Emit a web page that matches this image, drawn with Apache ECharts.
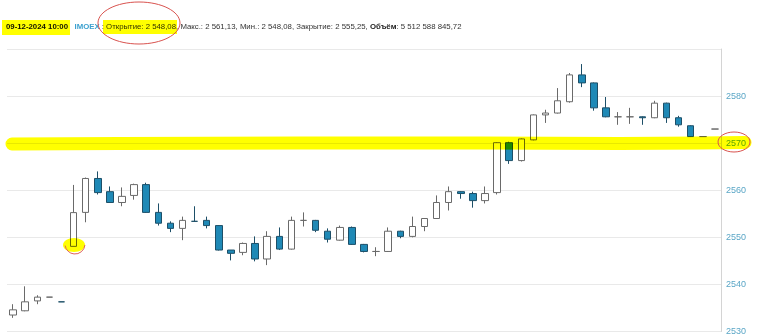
<!DOCTYPE html>
<html>
<head>
<meta charset="utf-8">
<script src="https://cdn.jsdelivr.net/npm/echarts@6/dist/echarts.min.js"></script>
<style>
html,body{margin:0;padding:0;background:#fff;}
#chart{width:758px;height:336px;}
</style>
</head>
<body>
<div id="chart"></div>
<script>
// ---- data (open, close, low, high per candle) ----
const opens  = [2533.5,2534.4,2536.5,2537.3,2536.3,2548.08,2555.3,2562.5,2559.7,2557.4,2558.9,2561.2,2555.3,2553.0,2551.9,2553.4,2553.6,2552.5,2547.3,2546.8,2548.7,2545.4,2550.2,2547.5,2553.6,2553.6,2551.3,2549.4,2552.1,2548.5,2547.0,2547.0,2551.3,2550.2,2552.3,2554.0,2557.4,2559.7,2559.3,2557.8,2559.5,2570.1,2566.3,2570.7,2576.0,2576.4,2578.8,2584.5,2582.8,2577.5,2575.6,2575.6,2575.6,2575.4,2578.5,2575.4,2573.7,2571.4,2573.0];
const closes = [2534.6,2536.3,2537.3,2537.3,2536.3,2555.25,2562.5,2559.5,2557.4,2558.7,2561.2,2555.3,2553.0,2551.9,2553.6,2553.4,2552.5,2547.3,2546.6,2548.7,2545.4,2550.2,2547.5,2553.6,2553.6,2551.5,2549.6,2552.1,2548.5,2547.0,2547.0,2551.3,2550.2,2552.3,2554.0,2557.4,2559.7,2559.3,2557.8,2559.3,2570.1,2566.3,2570.9,2576.0,2576.4,2579.0,2584.5,2582.8,2577.5,2575.6,2575.6,2575.6,2575.4,2578.5,2575.4,2573.9,2571.4,2571.4,2573.0];
const lows   = [2532.9,2534.3,2535.8,2537.3,2536.3,2548.08,2553.2,2559.1,2557.3,2556.6,2558.0,2555.2,2552.5,2551.1,2549.4,2553.3,2551.9,2547.2,2545.1,2546.2,2544.9,2544.1,2547.3,2547.4,2552.3,2551.1,2548.9,2549.3,2548.4,2546.8,2546.0,2546.9,2549.8,2550.0,2551.3,2553.9,2555.7,2558.2,2556.3,2557.2,2559.1,2565.6,2566.1,2570.6,2574.3,2576.3,2578.6,2581.9,2576.9,2575.5,2573.9,2574.1,2573.9,2575.3,2574.3,2573.5,2571.3,2571.4,2573.0];
const highs  = [2535.8,2539.6,2537.7,2537.3,2536.3,2561.13,2562.7,2564.0,2560.8,2560.6,2561.4,2561.6,2557.2,2553.4,2554.4,2556.6,2554.4,2552.6,2547.3,2548.9,2550.2,2551.3,2552.1,2554.4,2555.3,2553.7,2551.9,2552.5,2552.3,2548.6,2547.9,2552.1,2551.4,2554.4,2554.1,2558.9,2560.8,2559.8,2559.7,2560.8,2570.2,2570.3,2571.0,2576.1,2577.1,2581.7,2584.9,2586.8,2582.9,2579.8,2576.6,2577.5,2575.7,2579.0,2578.6,2575.8,2573.8,2571.4,2573.0];
const categories = opens.map((_, i) => String(i + 1));
const yMin = 2530, yMax = 2590, yStep = 10;

// header info (hovered candle)
const headerIndex = 5;
const headerDate = '09-12-2024 10:00';
const headerTicker = 'IMOEX';
const headerVolume = '5 512 588 845,72';

function fmtRu(v) {
  const s = v.toFixed(2).split('.');
  return s[0].replace(/\B(?=(\d{3})+(?!\d))/g, ' ') + ',' + s[1];
}

const ohlc = opens.map((o, i) => [o, closes[i], lows[i], highs[i]]);

const chart = echarts.init(document.getElementById('chart'), null, {renderer: 'canvas'});

const FS = 7.8;
const FF = '"Liberation Sans", Arial, sans-serif';
const headerText =
  '{d|' + headerDate + '}   {i|' + headerTicker + '}{n| : Открытие: ' + fmtRu(opens[headerIndex]) +
  ', Макс.: ' + fmtRu(highs[headerIndex]) + ', Мин.: ' + fmtRu(lows[headerIndex]) +
  ', Закрытие: ' + fmtRu(closes[headerIndex]) + ', }{b|Объём}{n|: ' + headerVolume + '}';

const option = {
  animation: false,
  backgroundColor: '#ffffff',
  grid: {left: 7, right: 37, top: 49, bottom: 3, containLabel: false},
  xAxis: {
    type: 'category',
    data: categories,
    boundaryGap: true,
    axisLine: {show: false},
    axisTick: {show: false},
    axisLabel: {show: false},
    splitLine: {show: false}
  },
  yAxis: {
    type: 'value',
    position: 'right',
    min: yMin, max: yMax, interval: yStep,
    axisLine: {show: true, lineStyle: {color: '#d4d4d4'}},
    axisTick: {show: false},
    axisLabel: {
      color: '#5aa6c6', fontSize: 9, margin: 5, fontFamily: FF,
      showMaxLabel: false,
      formatter: function (v) { return String(v); }
    },
    splitLine: {show: true, lineStyle: {color: '#e9e9e9', width: 1}}
  },
  series: [{
    type: 'candlestick',
    data: ohlc,
    barWidth: 7,
    itemStyle: {
      color: '#ffffff',
      color0: '#1f89b6',
      borderColor: '#6a6a6a',
      borderColor0: '#1d4f68',
      borderWidth: 1
    }
  }],
  graphic: [
    {
      type: 'text', left: 6, top: 23, z: 100, silent: true,
      style: {
        text: headerText,
        font: FS + 'px ' + FF,
        fill: '#333',
        rich: {
          d: {fontWeight: 'bold', fontSize: FS, fill: '#111', fontFamily: 'Liberation Sans'},
          i: {fontWeight: 'bold', fontSize: FS, fill: '#3ba0cf', fontFamily: 'Liberation Sans'},
          n: {fontSize: FS, fill: '#333', fontFamily: 'Liberation Sans'},
          b: {fontWeight: 'bold', fontSize: FS, fill: '#222', fontFamily: 'Liberation Sans'}
        }
      }
    },
    // header highlights (marker)
    {type: 'rect', shape: {x: 2, y: 20, width: 68, height: 15}, style: {fill: '#ffff00', blend: 'multiply'}, z: 110, silent: true},
    {type: 'rect', shape: {x: 103, y: 20, width: 74, height: 14}, style: {fill: '#ffff00', blend: 'multiply'}, z: 110, silent: true},
    // yellow marker band at the 2570 level
    {
      type: 'polyline', z: 120, silent: true,
      shape: {points: [[12, 144], [120, 143.5], [300, 143], [480, 143], [620, 143.5], [700, 143], [745, 142.5]]},
      style: {stroke: '#ffff00', lineWidth: 13, fill: null, lineCap: 'round', lineJoin: 'round', blend: 'multiply'}
    },
    // yellow blob at the first big candle open
    {
      type: 'ellipse', z: 120, silent: true,
      shape: {cx: 74, cy: 245, rx: 11, ry: 7},
      style: {fill: '#ffff00', blend: 'multiply'}
    },
    {
      type: 'arc', z: 121, silent: true,
      shape: {cx: 75, cy: 244, r: 10, startAngle: 0.1, endAngle: Math.PI * 0.95},
      style: {stroke: '#e0605a', lineWidth: 1, fill: null}
    },
    // red hand-drawn circles
    {
      type: 'ellipse', z: 130, silent: true,
      shape: {cx: 139, cy: 23, rx: 41, ry: 21},
      style: {stroke: '#d9534f', lineWidth: 1, fill: null}
    },
    {
      type: 'ellipse', z: 130, silent: true,
      shape: {cx: 734, cy: 142, rx: 16, ry: 10},
      style: {stroke: '#d9534f', lineWidth: 1, fill: null}
    }
  ]
};
chart.setOption(option);
</script>
</body>
</html>
